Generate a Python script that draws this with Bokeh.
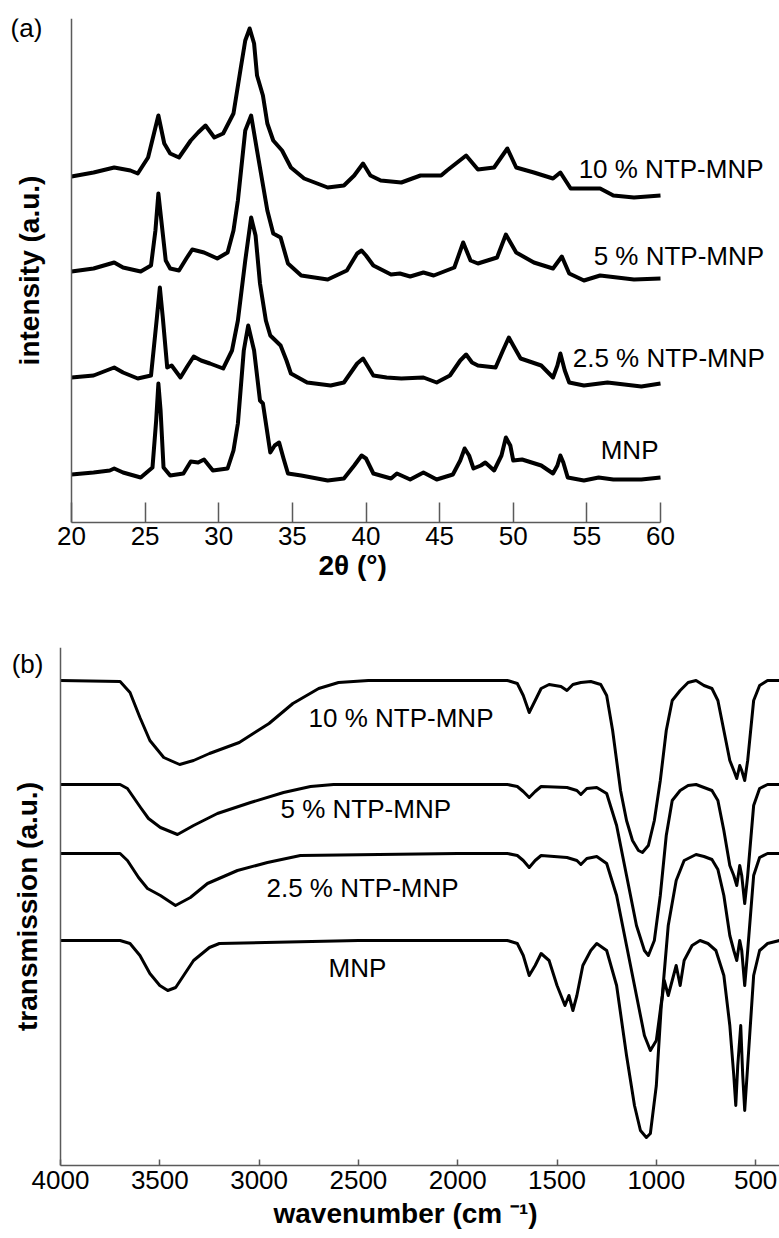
from bokeh.plotting import figure
from bokeh.models import Range1d, FixedTicker, Label, Title
from bokeh.layouts import column
from bokeh.embed import file_html
from bokeh.resources import INLINE

# ---------------- (a) XRD data: 2theta (deg) and stacked intensity (a.u.) ----------------
xrd_mnp_t = [20, 21.5, 22.6, 22.9, 23.5, 24.7, 25.5, 25.75, 25.9, 26.05, 26.25, 26.7, 27.6, 28.1, 28.6, 29.0,
             29.6, 30.6, 31.0, 31.3, 31.7, 32.0, 32.4, 32.8, 33.0, 33.5, 33.8, 34.1, 34.4, 34.7, 35.6, 37.4,
             38.5, 39.2, 39.7, 40.0, 40.5, 41.7, 42.1, 43.0, 43.9, 44.8, 45.9, 46.4, 46.7, 47.0, 47.3, 47.8,
             48.1, 48.7, 49.2, 49.5, 49.8, 50.0, 50.6, 51.9, 52.7, 53.0, 53.2, 53.4, 53.7, 54.8, 55.8, 56.8,
             58.7, 60]
xrd_mnp_i = [48, 50, 52, 54, 50, 45, 55, 102, 139, 112, 55, 47, 49, 61, 60, 63,
             52, 54, 72, 99, 172, 197, 172, 122, 119, 70, 77, 80, 64, 49, 47, 42,
             44, 57, 67, 64, 49, 44, 49, 43, 50, 43, 48, 62, 74, 67, 54, 57,
             60, 52, 67, 85, 77, 62, 63, 57, 49, 57, 67, 60, 45, 42, 45, 43,
             43, 45]

xrd_25_t = [20, 21.5, 22.9, 23.5, 24.5, 25.4, 25.8, 26.0, 26.2, 26.5, 26.8, 27.4, 27.9, 28.3, 28.8, 29.4,
            30.3, 30.9, 31.3, 31.8, 32.2, 32.5, 32.8, 33.2, 33.5, 34.2, 34.6, 34.9, 36.0, 37.6, 38.5, 39.4,
            39.8, 40.5, 41.4, 42.4, 43.9, 44.8, 45.7, 46.4, 46.8, 47.2, 47.6, 48.8, 49.3, 49.7, 50.0, 50.5,
            51.9, 52.7, 53.0, 53.2, 53.5, 53.8, 54.8, 56.4, 58.7, 60]
xrd_25_i = [145, 147, 155, 150, 144, 147, 205, 235, 205, 155, 157, 145, 157, 166, 162, 159,
            154, 172, 202, 262, 305, 287, 239, 202, 187, 177, 162, 149, 140, 137, 140, 159,
            164, 147, 145, 144, 145, 140, 147, 162, 168, 160, 157, 155, 172, 185, 177, 164,
            157, 145, 157, 169, 152, 140, 137, 140, 136, 139]

xrd_5_t = [20, 21.5, 22.9, 23.5, 24.7, 25.4, 25.7, 25.9, 26.1, 26.4, 26.7, 27.3, 27.8, 28.2, 29.0, 29.9,
           30.6, 31.0, 31.3, 31.8, 32.2, 32.6, 33.3, 33.7, 34.2, 34.7, 35.6, 37.4, 38.7, 39.4, 39.7, 40.0,
           40.5, 41.7, 42.3, 43.0, 43.9, 44.6, 46.0, 46.6, 47.1, 47.6, 48.9, 49.5, 50.2, 51.4, 52.7, 53.3,
           53.8, 54.8, 55.9, 58.2, 60]
xrd_5_i = [251, 254, 260, 255, 251, 257, 292, 329, 302, 262, 254, 252, 264, 273, 270, 264,
           270, 292, 322, 392, 407, 372, 312, 289, 285, 259, 247, 243, 252, 269, 272, 267,
           257, 248, 249, 246, 250, 247, 255, 280, 262, 259, 265, 288, 270, 260, 254, 266,
           249, 242, 247, 243, 244]

xrd_10_t = [20, 21.5, 22.9, 24.0, 24.5, 25.2, 25.6, 25.9, 26.3, 26.7, 27.3, 28.1, 28.6, 29.1, 29.7, 30.3,
            31.0, 31.5, 31.8, 32.1, 32.4, 32.6, 33.0, 33.3, 33.7, 34.3, 34.9, 35.8, 37.4, 38.5, 39.2, 39.8,
            40.3, 41.0, 42.4, 43.7, 45.1, 45.5, 46.8, 47.6, 48.7, 49.6, 50.2, 51.4, 52.7, 53.2, 53.9, 55.9,
            56.8, 58.2, 60]
xrd_10_i = [346, 350, 355, 352, 349, 365, 389, 407, 379, 369, 365, 382, 390, 397, 385, 389,
            409, 455, 482, 494, 479, 447, 427, 399, 382, 372, 355, 344, 335, 337, 347, 359,
            347, 342, 340, 347, 347, 352, 367, 353, 355, 374, 355, 350, 344, 350, 334, 334,
            327, 325, 327]

xrd_labels = ["MNP", "2.5 % NTP-MNP", "5 % NTP-MNP", "10 % NTP-MNP"]
xrd_label_t = [55.94, 54.04, 55.46, 54.44]
xrd_label_i = [73, 165, 267, 354]

# ---------------- (b) FTIR data: wavenumber (cm-1) and stacked transmission (a.u.) ----------------
ir_10_w = [4000, 3700, 3650, 3600, 3550, 3480, 3400, 3330, 3250, 3100, 2950, 2830, 2700, 2600, 2450, 2000,
           1750, 1700, 1670, 1640, 1610, 1580, 1540, 1480, 1450, 1420, 1380, 1330, 1280, 1250, 1220, 1180,
           1150, 1120, 1090, 1070, 1040, 1010, 980, 950, 920, 880, 840, 800, 760, 720, 690, 660, 630, 610,
           595, 580, 570, 555, 540, 510, 480, 440, 380]
ir_10_v = [485, 484, 473, 448, 425, 408, 401, 405, 412, 423, 442, 462, 477, 483, 485, 485,
           485, 482, 470, 453, 465, 477, 481, 479, 475, 481, 483, 484, 481, 470, 435, 375,
           345, 325, 315, 313, 320, 345, 385, 435, 465, 475, 483, 485, 480, 477, 465, 435, 405, 395,
           387, 400, 395, 385, 405, 465, 480, 485, 485]

ir_5_w = [4000, 3700, 3663, 3597, 3557, 3497, 3411, 3330, 3210, 3043, 2877, 2741, 2625, 2000, 1750, 1700,
          1670, 1640, 1610, 1580, 1450, 1400, 1380, 1350, 1300, 1250, 1200, 1150, 1100, 1060, 1040, 1010,
          980, 950, 920, 880, 840, 800, 760, 720, 690, 660, 630, 610, 595, 580, 570, 555, 540, 510, 480,
          440, 380]
ir_5_v = [381, 381, 377, 358, 347, 338, 331, 340, 352, 363, 373, 379, 381, 381, 381, 379,
          374, 368, 374, 379, 378, 375, 371, 377, 378, 372, 340, 290, 240, 215, 210, 225,
          270, 330, 365, 375, 380, 381, 378, 375, 365, 335, 300, 290, 280, 300, 290, 262, 290, 360, 377,
          381, 381]

ir_25_w = [4000, 3700, 3663, 3607, 3562, 3497, 3421, 3346, 3260, 3109, 2958, 2792, 2000, 1750, 1700, 1670,
           1640, 1610, 1580, 1450, 1400, 1380, 1350, 1300, 1250, 1200, 1150, 1100, 1060, 1030, 1000, 970,
           940, 900, 860, 800, 760, 720, 690, 660, 630, 610, 595, 580, 570, 555, 540, 510, 480, 440, 380]
ir_25_v = [312, 312, 305, 288, 277, 270, 260, 268, 282, 295, 303, 310, 312, 312, 310, 305,
           298, 305, 310, 308, 305, 301, 307, 309, 302, 270, 220, 170, 130, 115, 125, 170,
           240, 285, 305, 311, 309, 306, 296, 270, 230, 215, 205, 225, 215, 180, 215, 290, 308, 312, 312]

ir_mnp_w = [4000, 3700, 3650, 3600, 3550, 3500, 3460, 3420, 3380, 3330, 3250, 3200, 2500, 1750, 1700, 1670,
            1640, 1610, 1580, 1540, 1500, 1460, 1440, 1420, 1400, 1370, 1330, 1300, 1250, 1200, 1150, 1110,
            1080, 1050, 1030, 1000, 975, 960, 940, 900, 880, 860, 820, 780, 740, 700, 660, 630, 610, 600,
            590, 575, 565, 555, 540, 510, 480, 440, 380]
ir_mnp_v = [225, 225, 222, 210, 192, 180, 175, 178, 190, 205, 218, 222, 225, 225, 222, 210,
            190, 200, 212, 205, 180, 160, 170, 155, 170, 200, 215, 222, 215, 180, 110, 60,
            35, 28, 32, 80, 160, 185, 170, 200, 180, 205, 220, 225, 222, 215, 190, 140, 90, 60,
            100, 140, 90, 55, 100, 190, 215, 222, 225]

ir_labels = ["MNP", "2.5 % NTP-MNP", "5 % NTP-MNP", "10 % NTP-MNP"]
ir_label_w = [2650, 2963, 2892, 2751]
ir_label_v = [198, 278, 357, 448]

FONT = "Liberation Sans"
AXIS_COLOR = "#5a5a5a"


def style(p, y_at, y_top):
    p.outline_line_color = None
    p.xgrid.visible = False
    p.ygrid.visible = False
    p.background_fill_color = "white"
    p.border_fill_color = "white"
    for ax in (p.xaxis[0], p.yaxis[0]):
        ax.axis_line_color = AXIS_COLOR
        ax.axis_line_width = 1.5
        ax.major_tick_line_color = AXIS_COLOR
        ax.major_tick_line_width = 1.5
        ax.minor_tick_line_color = None
        ax.major_label_text_font = FONT
        ax.major_label_text_font_size = "26px"
        ax.major_label_text_color = "black"
        ax.axis_label_text_font = FONT
        ax.axis_label_text_font_size = "28px"
        ax.axis_label_text_font_style = "bold"
        ax.axis_label_text_color = "black"
    ya = p.yaxis[0]
    ya.ticker = FixedTicker(ticks=[])
    ya.major_tick_line_color = None
    ya.major_tick_in = 0
    ya.major_tick_out = 0
    ya.minor_tick_in = 0
    ya.minor_tick_out = 0
    ya.major_label_standoff = 0
    ya.fixed_location = y_at
    ya.bounds = (0, y_top)


def x_title(p, text, offset, standoff):
    p.add_layout(Title(text=text, align="left", offset=offset, standoff=standoff,
                       text_font=FONT, text_font_size="28px", text_font_style="bold",
                       text_color="black"), "below")


# ---------------- top panel ----------------
pa = figure(width=779, height=592, output_backend="svg", toolbar_location=None,
            x_range=Range1d(20 - 71 / 14.725, 20 + 708 / 14.725), y_range=Range1d(0, 504),
            min_border_left=0, min_border_right=0, min_border_top=18, min_border_bottom=70,
            frame_align=False)
style(pa, 20, 504)
pa.xaxis[0].ticker = FixedTicker(ticks=[20, 25, 30, 35, 40, 45, 50, 55, 60])
pa.xaxis[0].bounds = (20, 60)
pa.xaxis[0].major_tick_in = 20
pa.xaxis[0].major_tick_out = 0
pa.xaxis[0].major_label_standoff = 4
x_title(pa, "2θ (°)", 318, 0)
pa.yaxis[0].axis_label = "intensity (a.u.)"
pa.yaxis[0].axis_label_standoff = 27

for t, i in ((xrd_mnp_t, xrd_mnp_i), (xrd_25_t, xrd_25_i), (xrd_5_t, xrd_5_i), (xrd_10_t, xrd_10_i)):
    pa.line(t, i, line_color="black", line_width=4, line_join="round")

for txt, t, i in zip(xrd_labels, xrd_label_t, xrd_label_i):
    pa.add_layout(Label(x=t, y=i, text=txt, text_font=FONT, text_font_size="26px",
                        text_align="left", text_baseline="middle", text_color="black"))
pa.add_layout(Label(x=16.94, y=495, text="(a)", text_font=FONT, text_font_size="26px",
                    text_align="center", text_baseline="middle", text_color="black"))

# ---------------- bottom panel ----------------
pb = figure(width=779, height=646, output_backend="svg", toolbar_location=None,
            x_range=Range1d(4000 + 60 * 5.035, 4000 - 719 * 5.035), y_range=Range1d(0, 518),
            min_border_left=0, min_border_right=0, min_border_top=55, min_border_bottom=73,
            frame_align=False)
style(pb, 4000, 518)
pb.xaxis[0].ticker = FixedTicker(ticks=[4000, 3500, 3000, 2500, 2000, 1500, 1000, 500])
pb.xaxis[0].bounds = (4000 - 719 * 5.035, 4000)
pb.xaxis[0].major_tick_in = 6
pb.xaxis[0].major_tick_out = 0
pb.xaxis[0].major_label_standoff = 5
x_title(pb, "wavenumber (cm ⁻¹)", 273, 8)
pb.yaxis[0].axis_label = "transmission (a.u.)"
pb.yaxis[0].axis_label_standoff = 18

for w, v in ((ir_mnp_w, ir_mnp_v), (ir_25_w, ir_25_v), (ir_5_w, ir_5_v), (ir_10_w, ir_10_v)):
    pb.line(w, v, line_color="black", line_width=3, line_join="round")

for txt, w, v in zip(ir_labels, ir_label_w, ir_label_v):
    pb.add_layout(Label(x=w, y=v, text=txt, text_font=FONT, text_font_size="26px",
                        text_align="left", text_baseline="middle", text_color="black"))
pb.add_layout(Label(x=4166, y=502, text="(b)", text_font=FONT, text_font_size="26px",
                    text_align="center", text_baseline="middle", text_color="black"))

layout = column(pa, pb, spacing=0)
open("out.html", "w").write(file_html(layout, INLINE))
